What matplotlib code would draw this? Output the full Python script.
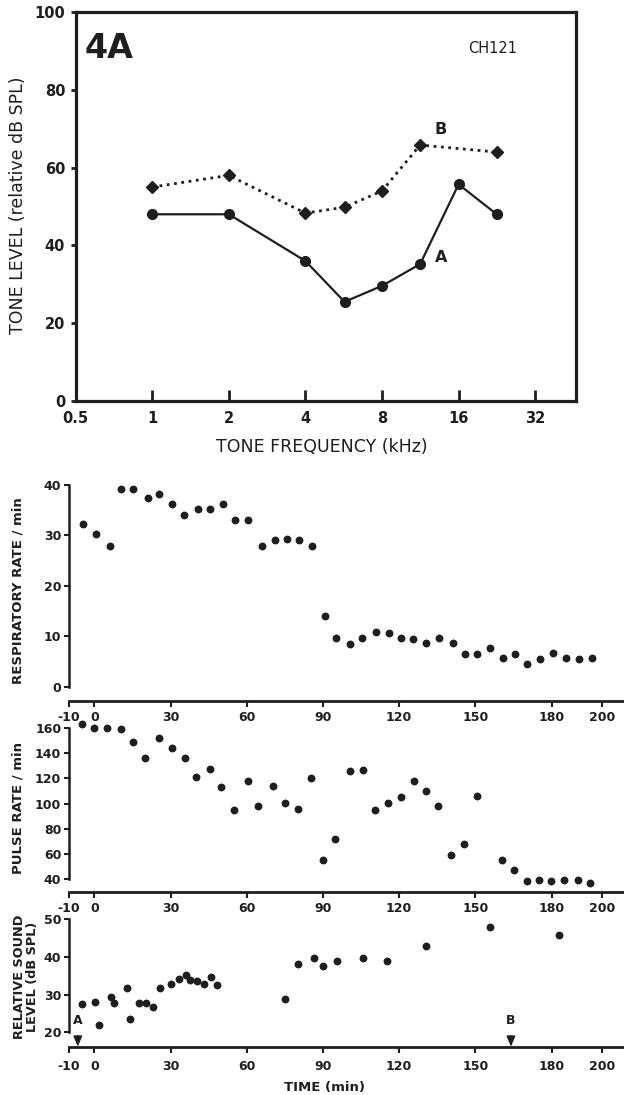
import matplotlib
matplotlib.use("Agg")
import matplotlib.pyplot as plt
from matplotlib.ticker import FixedLocator, FixedFormatter, NullLocator

plt.rcParams['font.family'] = ['DejaVu Sans']
INK = '#1e1e1e'

# ---------------- Data ----------------
# Panel 4A : tone level vs frequency
freq_A = [1, 2, 4, 5.7, 8, 11.3, 16, 22.6]
level_A = [48, 48, 36, 25.5, 29.6, 35.2, 55.7, 48]
freq_B = [1, 2, 4, 5.7, 8, 11.3, 22.6]
level_B = [55, 58, 48.3, 49.8, 54, 65.8, 64]
freq_ticks = [0.5, 1, 2, 4, 8, 16, 32]
freq_tick_labels = ['0.5', '1', '2', '4', '8', '16', '32']
level_ticks = [0, 20, 40, 60, 80, 100]

# Respiratory rate
resp_t = [-4.3, 0.8, 6.1, 10.4, 15.2, 21, 25.6, 30.6, 35.3, 41, 45.6, 50.8, 55.5,
          60.4, 66.1, 71.1, 75.7, 80.6, 85.6, 90.7, 95.3, 100.8, 105.5, 110.9,
          115.9, 120.9, 125.6, 130.7, 135.6, 141.1, 145.9, 150.8, 155.8, 160.8,
          165.6, 170.5, 175.5, 180.5, 185.7, 190.9, 195.8]
resp_v = [32.2, 30.2, 28, 39.2, 39.3, 37.4, 38.3, 36.2, 34.1, 35.2, 35.2, 36.2, 33.1,
          33.1, 27.9, 29.1, 29.2, 29.1, 28, 14, 9.7, 8.5, 9.7, 10.8,
          10.6, 9.6, 9.4, 8.7, 9.7, 8.6, 6.5, 6.5, 7.6, 5.6,
          6.5, 4.6, 5.4, 6.7, 5.6, 5.4, 5.6]
resp_ticks = [0, 10, 20, 30, 40]

# Pulse rate
pulse_t = [-4.8, 0, 5.1, 10.5, 15.1, 20, 25.6, 30.6, 35.7, 40.2, 45.4, 50, 55,
           60.4, 64.6, 70.5, 75.2, 80.3, 85.2, 90, 94.9, 100.8, 105.8, 110.4,
           115.6, 120.7, 125.9, 130.7, 135.4, 140.3, 145.6, 150.7, 160.5, 165.2,
           170.2, 175, 179.8, 185, 190.2, 195]
pulse_v = [162.6, 159.5, 160, 158.7, 148.9, 136, 152, 144.2, 136.3, 120.7, 127.3, 113, 94.9,
           118, 97.8, 114.1, 100.7, 95.9, 120.2, 55.3, 72.2, 125.4, 126.5, 94.9,
           100.1, 105.4, 118, 110.1, 98.3, 59.3, 68, 106.2, 55.6, 47.6,
           38.7, 39.2, 38.4, 39.7, 39.7, 36.8]
pulse_ticks = [40, 60, 80, 100, 120, 140, 160]

# Relative sound level
sound_t = [-4.7, 0.3, 1.7, 6.4, 7.9, 12.7, 14.1, 17.7, 20.4, 23.2, 25.9, 30.3, 33.2,
           36.1, 37.6, 40.3, 43.1, 45.9, 48.4, 75.1, 80.2, 86.4, 90, 95.6, 105.7,
           115.2, 130.7, 155.9, 182.8]
sound_v = [27.5, 28.1, 21.9, 29.4, 27.7, 31.8, 23.6, 27.7, 27.7, 26.7, 31.8, 32.7, 34.1,
           35.1, 33.9, 33.6, 32.7, 34.8, 32.6, 28.7, 38.1, 39.8, 37.7, 38.8, 39.6,
           38.9, 43, 48, 45.9]
sound_ticks = [20, 30, 40, 50]

time_ticks = [-10, 0, 30, 60, 90, 120, 150, 180, 200]
time_tick_labels = ['-10', '0', '30', '60', '90', '120', '150', '180', '200']
event_labels = ['A', 'B']
event_times = [-6.5, 164]

# ---------------- Figure ----------------
W, H = 624, 1095
fig = plt.figure(figsize=(W / 100, H / 100), dpi=100)


def rect(l, r, t, b):
    return [l / W, 1 - b / H, (r - l) / W, (b - t) / H]


# ---- Top panel ----
ax0 = fig.add_axes(rect(75.6, 576, 12, 401))
ax0.set_xscale('log', base=2)
ax0.set_xlim(0.5, 46.3)
ax0.set_ylim(0, 100)
ax0.plot(freq_A, level_A, '-', color=INK, lw=1.6, marker='o', ms=7, zorder=3)
ax0.plot(freq_B, level_B, ':', color=INK, lw=2.0, marker='D', ms=6.5, zorder=3)
ax0.xaxis.set_major_locator(FixedLocator(freq_ticks))
ax0.xaxis.set_major_formatter(FixedFormatter(freq_tick_labels))
ax0.xaxis.set_minor_locator(NullLocator())
ax0.set_yticks(level_ticks)
for s in ax0.spines.values():
    s.set_linewidth(2.3)
    s.set_color(INK)
ax0.tick_params(axis='x', direction='in', length=8, width=2, pad=7,
                labelsize=10.5, colors=INK)
ax0.tick_params(axis='y', direction='out', length=3.5, width=2, pad=4,
                labelsize=10.5, colors=INK)
for lab in ax0.get_xticklabels() + ax0.get_yticklabels():
    lab.set_fontweight('bold')
ax0.text(0.067, 0.907, '4A', transform=ax0.transAxes, ha='center', va='center',
         fontsize=24, fontweight='bold', color=INK)
ax0.text(0.834, 0.907, 'CH121', transform=ax0.transAxes, ha='center', va='center',
         fontsize=10.5, color=INK)
ax0.text(13.6, 69.7, 'B', ha='center', va='center', fontsize=11.5,
         fontweight='bold', color=INK)
ax0.text(13.6, 37, 'A', ha='center', va='center', fontsize=11.5,
         fontweight='bold', color=INK)
fig.text(18 / W, 1 - 205 / H, 'TONE LEVEL (relative dB SPL)', rotation=90,
         ha='center', va='center', fontsize=12.5, color=INK)
fig.text(322 / W, 1 - 447 / H, 'TONE FREQUENCY (kHz)', ha='center', va='center',
         fontsize=12.5, color=INK)

# ---- Lower panels ----
L = 68.9


def time_axes(top, bottom, ymin, ybounds, yticks):
    ax = fig.add_axes(rect(L, W, top, bottom))
    ax.set_xlim(-10, 208.5)
    ax.set_ylim(ymin, ybounds[1])
    ax.spines['top'].set_visible(False)
    ax.spines['right'].set_visible(False)
    ax.spines['left'].set_bounds(*ybounds)
    ax.spines['left'].set_linewidth(1.8)
    ax.spines['bottom'].set_linewidth(2.0)
    for s in ax.spines.values():
        s.set_color(INK)
    ax.set_xticks(time_ticks)
    ax.set_xticklabels(time_tick_labels)
    ax.set_yticks(yticks)
    ax.tick_params(axis='x', direction='out', length=4.5, width=1.5, pad=3,
                   labelsize=9, colors=INK)
    ax.tick_params(axis='y', direction='out', length=3.5, width=1.5, pad=2,
                   labelsize=9, colors=INK)
    for lab in ax.get_xticklabels() + ax.get_yticklabels():
        lab.set_fontweight('bold')
    return ax


ax1 = time_axes(485, 701, -2.83, (0, 40), resp_ticks)
ax1.scatter(resp_t, resp_v, s=32, color=INK, clip_on=False, zorder=3, linewidths=0)
fig.text(18 / W, 1 - 591 / H, 'RESPIRATORY RATE / min', rotation=90,
         ha='center', va='center', fontsize=9.5, fontweight='bold', color=INK)

ax2 = time_axes(727.7, 891.7, 30.2, (40, 160), pulse_ticks)
ax2.scatter(pulse_t, pulse_v, s=32, color=INK, clip_on=False, zorder=3, linewidths=0)
fig.text(18 / W, 1 - 808 / H, 'PULSE RATE / min', rotation=90,
         ha='center', va='center', fontsize=9.5, fontweight='bold', color=INK)

ax3 = time_axes(919.3, 1047.3, 16.0, (20, 50), sound_ticks)
ax3.scatter(sound_t, sound_v, s=32, color=INK, clip_on=False, zorder=3, linewidths=0)
ax3.tick_params(axis='x', pad=5)
fig.text(26 / W, 1 - 977 / H, 'RELATIVE SOUND\nLEVEL (dB SPL)', rotation=90,
         ha='center', va='center', fontsize=9.3, fontweight='bold', color=INK,
         linespacing=1.0)
for lab, t in zip(event_labels, event_times):
    ax3.annotate(lab, xy=(t, 16.2), xytext=(t, 23.0), ha='center', va='center',
                 fontsize=9, fontweight='bold', color=INK, annotation_clip=False,
                 arrowprops=dict(arrowstyle='-|>,head_length=0.7,head_width=0.3',
                                 color=INK, lw=1.0, shrinkA=4, shrinkB=0))
fig.text(325 / W, 1 - 1087 / H, 'TIME (min)', ha='center', va='center',
         fontsize=9.5, fontweight='bold', color=INK)

fig.savefig('out.png', dpi=100, facecolor='white')
